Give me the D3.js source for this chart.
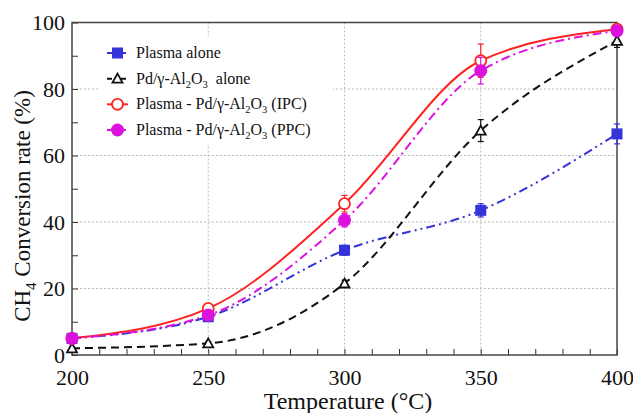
<!DOCTYPE html>
<html>
<head>
<meta charset="utf-8">
<script src="https://d3js.org/d3.v7.min.js"></script>
<style>
  body { margin: 0; background: #fff; }
  svg { font-family: "Liberation Serif", "DejaVu Serif", serif; }
  .grid line { stroke: #bbb; stroke-dasharray: 2,2; stroke-width: 1; }
</style>
</head>
<body>
<svg id="chart" width="633" height="413"></svg>
<script>
var temps = [200, 250, 300, 350, 400];
var plasmaAlone = [5, 11.5, 31.5, 43.5, 66.5];
var plasmaErr = [0.5, 1, 1.5, 2, 3];
var pdAlone = [2, 3.5, 21.5, 67.5, 94.5];
var pdErr = [0.5, 0.5, 1, 3.3, 2];
var ipc = [5, 14, 45.5, 88.5, 98];
var ipcErr = [0.5, 1, 2.5, 5, 1];
var ppc = [5, 12, 40.5, 85.5, 97.5];
var ppcErr = [0.5, 1, 2, 4, 1.5];
var xTicks = [200, 250, 300, 350, 400];
var yTicks = [0, 20, 40, 60, 80, 100];

var svg = d3.select("#chart");
var pLeft = 72, pRight = 617, pTop = 22.5, pBottom = 355;
var x = d3.scaleLinear().domain([200, 400]).range([pLeft, pRight]);
var y = d3.scaleLinear().domain([0, 100]).range([pBottom, pTop]);

// grid
var grid = svg.append("g").attr("class", "grid");
grid.selectAll(".gx").data(xTicks.slice(1, -1)).enter().append("line")
  .attr("x1", function(d){return x(d);}).attr("x2", function(d){return x(d);})
  .attr("y1", pTop).attr("y2", pBottom);
grid.selectAll(".gy").data(yTicks.slice(1, -1)).enter().append("line")
  .attr("y1", function(d){return y(d);}).attr("y2", function(d){return y(d);})
  .attr("x1", pLeft).attr("x2", pRight);

// legend background covers grid
svg.append("rect").attr("x", 100).attr("y", 36).attr("width", 233).attr("height", 108).attr("fill", "#fff");

// axes with inward ticks
var xMinor = d3.range(200, 401, 10);
var yMinor = d3.range(0, 101, 10);
svg.append("g").attr("transform", "translate(0," + pBottom + ")")
  .call(d3.axisTop(x).tickValues(xMinor).tickSize(6).tickFormat(""))
  .call(function(g){ g.select(".domain").remove(); g.selectAll("line").attr("stroke", "#333"); });
svg.append("g").attr("transform", "translate(" + pLeft + ",0)")
  .call(d3.axisRight(y).tickValues(yMinor).tickSize(6).tickFormat(""))
  .call(function(g){ g.select(".domain").remove(); g.selectAll("line").attr("stroke", "#333"); });

svg.append("g").attr("transform", "translate(0," + (pBottom + 8) + ")")
  .call(d3.axisBottom(x).tickValues(xTicks).tickSize(0).tickPadding(6).tickFormat(d3.format("d")))
  .call(function(g){ g.select(".domain").remove(); g.selectAll("text").attr("font-size", 22).attr("fill", "#111").attr("font-family", "Liberation Serif"); });
svg.append("g").attr("transform", "translate(" + (pLeft - 5) + ",0)")
  .call(d3.axisLeft(y).tickValues(yTicks).tickSize(0).tickPadding(2))
  .call(function(g){ g.select(".domain").remove(); g.selectAll("text").attr("font-size", 22).attr("fill", "#111").attr("font-family", "Liberation Serif"); });

svg.append("rect").attr("x", pLeft).attr("y", pTop).attr("width", pRight - pLeft).attr("height", pBottom - pTop)
  .attr("fill", "none").attr("stroke", "#444").attr("stroke-width", 1.5);

// titles
svg.append("text").attr("x", 348).attr("y", 409).attr("text-anchor", "middle")
  .attr("font-size", 24).attr("fill", "#111").text("Temperature (°C)");
var yt = svg.append("text").attr("transform", "translate(30,206) rotate(-90)")
  .attr("text-anchor", "middle").attr("font-size", 23).attr("fill", "#111");
yt.append("tspan").text("CH");
yt.append("tspan").attr("font-size", 15).attr("dy", 6).text("4");
yt.append("tspan").attr("dy", -6).text(" Conversion rate (%)");

var series = [
  {vals: plasmaAlone, err: plasmaErr, color: "#3434d8", dash: "9,4,2,4,2,4", marker: "square"},
  {vals: pdAlone, err: pdErr, color: "#111", dash: "8,5", marker: "triangle"},
  {vals: ipc, err: ipcErr, color: "#ff2222", dash: null, marker: "open"},
  {vals: ppc, err: ppcErr, color: "#dd11dd", dash: "9,4,2,4", marker: "filled"}
];

var line = d3.line().x(function(d){return x(d[0]);}).y(function(d){return y(d[1]);}).curve(d3.curveMonotoneX);

function drawMarker(g, type, color, cx, cy) {
  if (type === "square") {
    g.append("rect").attr("x", cx - 5.5).attr("y", cy - 5.5).attr("width", 11).attr("height", 11).attr("fill", color);
  } else if (type === "triangle") {
    var s = 5;
    g.append("path").attr("d", "M" + cx + "," + (cy - s) + "L" + (cx + s) + "," + (cy + s * 0.8) + "L" + (cx - s) + "," + (cy + s * 0.8) + "Z")
      .attr("fill", "#fff").attr("stroke", color).attr("stroke-width", 1.8);
  } else if (type === "open") {
    g.append("circle").attr("cx", cx).attr("cy", cy).attr("r", 5.5).attr("fill", "#fff").attr("stroke", color).attr("stroke-width", 1.8);
  } else {
    g.append("circle").attr("cx", cx).attr("cy", cy).attr("r", 6.5).attr("fill", color);
  }
}

series.forEach(function(s) {
  var pts = temps.map(function(t, i){ return [t, s.vals[i]]; });
  var g = svg.append("g");
  g.append("path").datum(pts).attr("d", line).attr("fill", "none").attr("stroke", s.color)
    .attr("stroke-width", 2).attr("stroke-dasharray", s.dash);
  temps.forEach(function(t, i) {
    var cx = x(t), e = s.err[i];
    g.append("line").attr("x1", cx).attr("x2", cx).attr("y1", y(s.vals[i] - e)).attr("y2", y(s.vals[i] + e))
      .attr("stroke", s.color).attr("stroke-width", 1.2);
    [s.vals[i] - e, s.vals[i] + e].forEach(function(v) {
      g.append("line").attr("x1", cx - 3).attr("x2", cx + 3).attr("y1", y(v)).attr("y2", y(v))
        .attr("stroke", s.color).attr("stroke-width", 1.2);
    });
    drawMarker(g, s.marker, s.color, cx, y(s.vals[i]));
  });
});

// legend
var labels = [
  [["Plasma alone"]],
  [["Pd/γ-Al"], ["2", "sub"], ["O"], ["3", "sub"], ["  alone"]],
  [["Plasma - Pd/γ-Al"], ["2", "sub"], ["O"], ["3", "sub"], [" (IPC)"]],
  [["Plasma - Pd/γ-Al"], ["2", "sub"], ["O"], ["3", "sub"], [" (PPC)"]]
];
var legY = d3.scaleLinear().domain([0, 3]).range([53, 130]);
series.forEach(function(s, i) {
  var ly = legY(i);
  var g = svg.append("g");
  g.append("line").attr("x1", 107).attr("x2", 128).attr("y1", ly).attr("y2", ly)
    .attr("stroke", s.color).attr("stroke-width", 2).attr("stroke-dasharray", s.dash ? "5,2" : null);
  drawMarker(g, s.marker, s.color, 117.5, ly);
  var t = g.append("text").attr("x", 136).attr("y", ly + 5).attr("font-size", 16).attr("fill", "#111")
    .style("white-space", "pre");
  var wasSub = false;
  labels[i].forEach(function(p) {
    var ts = t.append("tspan").text(p[0]);
    if (p[1] === "sub") {
      ts.attr("font-size", 10.5).attr("dy", 4);
      wasSub = true;
    } else if (wasSub) {
      ts.attr("dy", -4);
      wasSub = false;
    }
  });
});
</script>
</body>
</html>
